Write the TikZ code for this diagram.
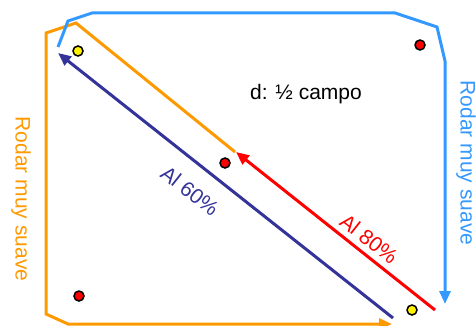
\documentclass[tikz,border=0pt]{standalone}
\usepackage{fontspec}
\setmainfont{Liberation Sans}
\usetikzlibrary{arrows.meta}
\definecolor{orng}{RGB}{255,153,0}
\definecolor{lblue}{RGB}{51,153,255}
\definecolor{dblue}{RGB}{51,51,153}
\begin{document}
\begin{tikzpicture}[x=1pt,y=-1pt,
  route/.style={line width=3pt, line join=miter},
  tip/.style={-{Triangle[length=13pt,width=11pt]}},
  dot/.style={circle, draw=black, line width=1.5pt, minimum size=10pt, inner sep=0pt},
  lbl/.style={font=\fontsize{21}{24}\selectfont, inner sep=0pt}]
\useasboundingbox (0,0) rectangle (476,326);
% dots
\node[dot, fill=yellow] (y1) at (78,51) {};
\node[dot, fill=red] (r1) at (420,45) {};
\node[dot, fill=red] (r2) at (225,163) {};
\node[dot, fill=red] (r3) at (79,296) {};
\node[dot, fill=yellow] (y2) at (412,310) {};
% orange route
\coordinate (o0) at (235,152);
\coordinate (o1) at (76,23);
\coordinate (o2) at (46,33);
\coordinate (o3) at (46,314);
\coordinate (o4) at (68,324);
\coordinate (o5) at (392,324);
\draw[route, orng, tip] (o0) -- (o1) -- (o2) -- (o3) -- (o4) -- (o5);
% light blue route
\coordinate (b0) at (58,47);
\coordinate (b1) at (68,21);
\coordinate (b2) at (92,13);
\coordinate (b3) at (395,13);
\coordinate (b4) at (437,27);
\coordinate (b5) at (445,61);
\coordinate (b6) at (445,304);
\draw[route, lblue, tip] (b0) -- (b1) -- (b2) -- (b3) -- (b4) -- (b5) -- (b6);
% dark blue arrow
\coordinate (d0) at (393,318);
\coordinate (d1) at (58,53);
\draw[route, dblue, tip] (d0) -- (d1);
% red arrow
\coordinate (e0) at (435,310);
\coordinate (e1) at (236,152);
\draw[route, red, tip] (e0) -- (e1);
% labels
\node[lbl, anchor=base] (title) at (306,100) {d: ½ campo};
\node[lbl, text=orng, rotate=-90] (lo) at (21,199) {Rodar muy suave};
\node[lbl, text=lblue, rotate=-90] (lb) at (466,163) {Rodar muy suave};
\node[lbl, text=dblue, rotate=-38.3] (l60) at (190,191) {Al 60\%};
\node[lbl, text=red, rotate=-38.4] (l80) at (369,239) {Al 80\%};
\end{tikzpicture}
\end{document}
